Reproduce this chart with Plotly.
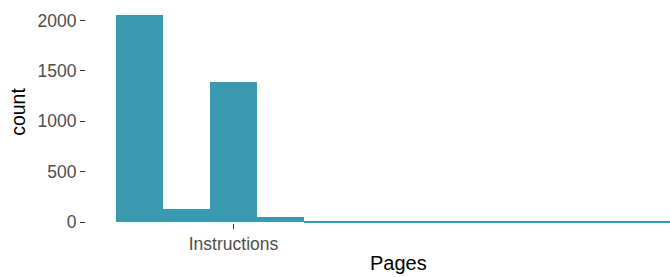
import plotly.graph_objects as go

# Histogram bins (page index centers) and counts
bin_centers = [1, 2, 3, 4, 5, 6, 7, 8, 9, 10, 11, 12]
counts = [2055, 128, 1386, 52, 15, 4, 4, 4, 4, 15, 4, 4]
tick_values = [3]
tick_labels = ["Instructions"]

BAR_COLOR = "#3B9AB2"

fig = go.Figure()
fig.add_trace(go.Bar(
    x=bin_centers, y=counts, width=1,
    marker=dict(color=BAR_COLOR, line=dict(width=0)),
    showlegend=False, hoverinfo="skip",
))

L, R, T, B = 86, 0, 4.6, 54.3
W, H = 670, 277
pw = W - L - R
ph = H - T - B

fig.update_layout(
    width=W, height=H,
    margin=dict(l=L, r=R, t=T, b=B, pad=0),
    paper_bgcolor="white", plot_bgcolor="white",
    bargap=0,
    font=dict(family="Liberation Sans, Arial, sans-serif"),
    xaxis=dict(
        range=[-0.138, 12.287],
        tickmode="array", tickvals=tick_values, ticktext=tick_labels,
        ticks="outside", ticklen=5, tickwidth=1, tickcolor="#333333",
        tickfont=dict(size=17.5, color="#4D4D4D"),
        showgrid=False, zeroline=False, showline=False,
        automargin=False,
    ),
    yaxis=dict(
        range=[-7, 2152.4],
        tickmode="array", tickvals=[0, 500, 1000, 1500, 2000],
        ticks="outside", ticklen=5, tickwidth=1, tickcolor="#333333",
        tickfont=dict(size=17.5, color="#4D4D4D"),
        showgrid=False, zeroline=False, showline=False,
        automargin=False,
    ),
    annotations=[
        dict(text="Pages", xref="paper", yref="paper",
             x=(398 - L) / pw, y=(H - B - 263) / ph,
             xanchor="center", yanchor="middle",
             showarrow=False, font=dict(size=20, color="black")),
        dict(text="count", xref="paper", yref="paper",
             x=(18 - L) / pw, y=(H - B - 111.5) / ph,
             xanchor="center", yanchor="middle", textangle=-90,
             showarrow=False, font=dict(size=19.5, color="black")),
    ],
)

fig.write_html("out.html", config={"displayModeBar": False},
               post_script="document.body.style.margin='0';")
